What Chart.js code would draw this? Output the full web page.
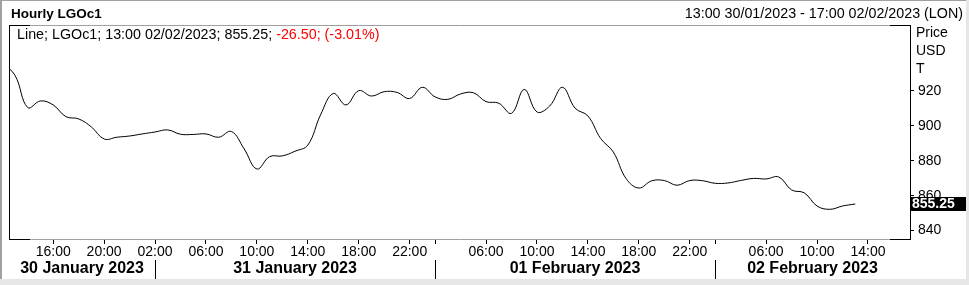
<!DOCTYPE html>
<html><head><meta charset="utf-8">
<script src="https://cdn.jsdelivr.net/npm/chart.js@4.4.0/dist/chart.umd.min.js"></script>
<style>html,body{margin:0;padding:0;background:#fff;overflow:hidden}canvas{display:block}</style>
</head><body>
<canvas id="c" width="969" height="285"></canvas>
<script>
// ---- data ----
const dayKeys = ['30/01', '31/01', '01/02', '02/02'];
const dayNames = ['30 January 2023', '31 January 2023', '01 February 2023', '02 February 2023'];
const dayHours = [
  [12,13,14,15,16,17,18,19,20,21,22,23],
  [2,3,4,5,6,7,8,9,10,11,12,13,14,15,16,17,18,19,20,21,22,23],
  [2,3,4,5,6,7,8,9,10,11,12,13,14,15,16,17,18,19,20,21,22,23],
  [2,3,4,5,6,7,8,9,10,11,12,13,14,15,16,17]
];
const prices = [
  936, 929, 910.5, 914.3, 912, 905.3, 904, 899.4, 892.5, 893.5, 894.2, 895.4,
  896.5, 897.7, 895.2, 895.1, 895.4, 893.5, 896.8, 886.8, 875.3, 882.4, 882.8, 885.5,
  889, 906.3, 918.6, 912, 920.2, 917.1, 919.6, 919.2, 915.7, 922.1,
  916.6, 915.2, 918.3, 919, 913.9, 913, 907.2, 920.9, 908, 911.4, 922.1, 910.1,
  905.7, 892.8, 885, 869.8, 864.4, 868.5, 868.7, 866, 868.7, 868.6,
  867.1, 867.3, 868.7, 869.9, 869.6, 870.7, 863.3, 861.6, 854.1, 852.2, 854.1, 855.25
];
const xTickTimes = ['30/01 16:00','30/01 20:00','31/01 02:00','31/01 06:00','31/01 10:00','31/01 14:00','31/01 18:00','31/01 22:00',
  '01/02 02:00','01/02 06:00','01/02 10:00','01/02 14:00','01/02 18:00','01/02 22:00',
  '02/02 02:00','02/02 06:00','02/02 10:00','02/02 14:00'];
const xTickLabels = ['16:00','20:00','02:00','06:00','10:00','14:00','18:00','22:00',
  '','06:00','10:00','14:00','18:00','22:00','','06:00','10:00','14:00'];
const yTicks = [840, 860, 880, 900, 920];
const yTitle = ['Price', 'USD', 'T'];
const titleText = 'Hourly LGOc1';
const rangeText = '13:00 30/01/2023 - 17:00 02/02/2023 (LON)';
const legendBlack = 'Line; LGOc1; 13:00 02/02/2023; 855.25; ';
const legendRed = '-26.50; (-3.01%)';
const lastLabel = '855.25';

// ---- build time index ----
const times = [];
const dayStart = [];
dayKeys.forEach((d, di) => {
  dayStart.push(times.length);
  dayHours[di].forEach(h => times.push(d + ' ' + String(h).padStart(2, '0') + ':00'));
});
const xTickPos = xTickTimes.map(t => times.indexOf(t));
const points = prices.map((v, i) => ({x: i, y: v}));

const FONT = '"Liberation Sans", Arial, sans-serif';

const deco = {
  id: 'deco',
  beforeDraw(chart) {
    const c = chart.ctx;
    c.save();
    c.fillStyle = '#fff';
    c.fillRect(0, 0, chart.width, chart.height);
    c.restore();
  },
  afterDraw(chart) {
    const c = chart.ctx;
    const a = chart.chartArea;
    const xs = chart.scales.x, ys = chart.scales.y;
    c.save();
    // outer frame
    c.fillStyle = '#a0a0a0';
    c.fillRect(0, 0, 2, chart.height);
    c.fillRect(0, 0, chart.width, 1);
    c.fillStyle = '#e6e6e6';
    c.fillRect(966, 0, 3, chart.height);
    c.fillRect(0, 279, chart.width, 6);
    // plot frame
    c.lineWidth = 1;
    c.strokeStyle = '#a0a0a0';
    c.beginPath();
    c.moveTo(a.left, a.top + 0.5); c.lineTo(a.right, a.top + 0.5);
    c.moveTo(a.left, a.bottom + 0.5); c.lineTo(a.right, a.bottom + 0.5);
    c.stroke();
    c.strokeStyle = '#000';
    c.beginPath();
    c.moveTo(a.left + 0.5, a.top); c.lineTo(a.left + 0.5, a.bottom + 1);
    c.moveTo(a.right + 0.5, a.top); c.lineTo(a.right + 0.5, a.bottom + 1);
    c.moveTo(a.left, a.top + 0.5); c.lineTo(a.left + 21, a.top + 0.5);
    c.moveTo(a.right - 20, a.top + 0.5); c.lineTo(a.right + 1, a.top + 0.5);
    c.moveTo(a.left, a.bottom + 0.5); c.lineTo(a.left + 21, a.bottom + 0.5);
    c.moveTo(a.right - 20, a.bottom + 0.5); c.lineTo(a.right + 1, a.bottom + 0.5);
    c.stroke();
    // title / header
    c.fillStyle = '#000';
    c.textBaseline = 'middle';
    c.textAlign = 'left';
    c.font = 'bold 13.5px ' + FONT;
    c.fillText(titleText, 11, 14);
    c.font = '14.3px ' + FONT;
    c.textAlign = 'right';
    c.fillText(rangeText, 963, 14);
    // legend
    c.textAlign = 'left';
    c.fillText(legendBlack, 17, 35);
    const w = c.measureText(legendBlack).width;
    c.fillStyle = '#ff0000';
    c.fillText(legendRed, 17 + w, 35);
    // y title
    c.fillStyle = '#000';
    c.font = '14px ' + FONT;
    yTitle.forEach((t, i) => c.fillText(t, a.right + 6, 33 + i * 18));
    // last value box
    const yl = Math.round(ys.getPixelForValue(prices[prices.length - 1]));
    c.fillStyle = '#000';
    c.fillRect(a.right + 1, yl - 7, 55, 14);
    c.fillStyle = '#fff';
    c.font = 'bold 14px ' + FONT;
    c.fillText(lastLabel, a.right + 2, yl);
    // date row
    const bounds = dayStart.map((s, i) => i === 0 ? a.left : Math.round(xs.getPixelForValue(s)));
    bounds.push(a.right);
    c.strokeStyle = '#000';
    c.beginPath();
    for (let i = 1; i < dayKeys.length; i++) {
      c.moveTo(bounds[i] + 0.5, 260); c.lineTo(bounds[i] + 0.5, 279);
    }
    c.stroke();
    c.fillStyle = '#000';
    c.font = 'bold 16px ' + FONT;
    c.textAlign = 'center';
    c.textBaseline = 'alphabetic';
    dayNames.forEach((n, i) => c.fillText(n, (bounds[i] + bounds[i + 1]) / 2, 273));
    c.restore();
  }
};

new Chart(document.getElementById('c'), {
  type: 'line',
  data: {
    datasets: [{
      data: points,
      borderColor: '#000',
      borderWidth: 1,
      pointRadius: 0,
      tension: 0.4,
      fill: false
    }]
  },
  options: {
    responsive: false,
    maintainAspectRatio: false,
    devicePixelRatio: 1,
    animation: false,
    events: [],
    layout: {padding: {left: 9, top: 25, right: 0, bottom: 0}},
    plugins: {legend: {display: false}, tooltip: {enabled: false}, title: {display: false}},
    scales: {
      x: {
        type: 'linear',
        position: 'bottom',
        min: 0.529,
        max: 71.3,
        afterFit(s) { s.height = 46; },
        afterBuildTicks(s) { s.ticks = xTickPos.map(v => ({value: v})); },
        grid: {drawOnChartArea: false, drawTicks: true, tickLength: 5, color: '#000', lineWidth: 1},
        border: {display: false},
        ticks: {
          autoSkip: false, maxRotation: 0, minRotation: 0, padding: 0,
          color: '#000', font: {family: FONT, size: 14},
          callback: (v, i) => xTickLabels[i]
        }
      },
      y: {
        type: 'linear',
        position: 'right',
        min: 835.2,
        max: 957.8,
        afterFit(s) { s.width = 59; },
        afterBuildTicks(s) { s.ticks = yTicks.map(v => ({value: v})); },
        grid: {drawOnChartArea: false, drawTicks: true, tickLength: 4, color: '#000', lineWidth: 1},
        border: {display: false},
        ticks: {
          padding: 4, color: '#000', font: {family: FONT, size: 14},
          callback: v => String(v)
        }
      }
    }
  },
  plugins: [deco]
});
</script>
</body></html>
